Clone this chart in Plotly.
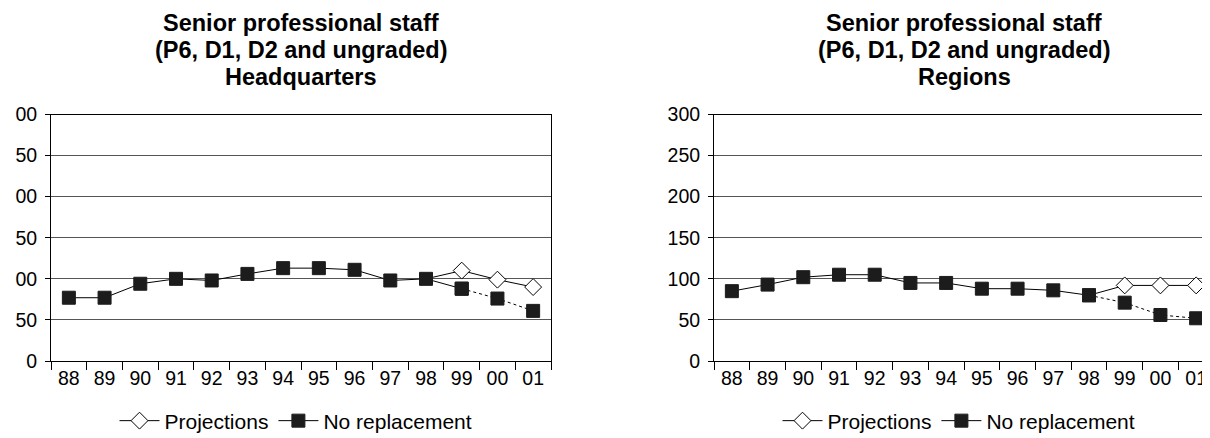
import plotly.graph_objects as go

years = ["88", "89", "90", "91", "92", "93", "94", "95", "96", "97", "98", "99", "00", "01"]

hq_no_replacement = [77, 77, 94, 100, 98, 106, 113, 113, 111, 98, 100, 88, 76, 61]
hq_projection_years = ["99", "00", "01"]
hq_projections = [110, 99, 90]
hq_solid_until = "99"   # no-replacement line is solid up to here, dotted after

reg_no_replacement = [85, 93, 102, 105, 105, 95, 95, 88, 88, 86, 80, 71, 56, 52]
reg_projection_years = ["99", "00", "01"]
reg_projections = [92, 92, 92]
reg_solid_until = "98"

title_lines_hq = ["Senior professional staff", "(P6, D1, D2 and ungraded)", "Headquarters"]
title_lines_reg = ["Senior professional staff", "(P6, D1, D2 and ungraded)", "Regions"]

y_ticks = [0, 50, 100, 150, 200, 250, 300]
# the left chart's y labels are cut off at the picture's left edge
hq_y_ticktext = ["0", "50", "00", "50", "00", "50", "00"]
reg_y_ticktext = ["0", "50", "100", "150", "200", "250", "300"]

W, H = 1210, 438
FONT = "Liberation Sans, Arial, sans-serif"

fig = go.Figure()


def add_chart(xa, ya, legend, no_repl, proj_years, proj, solid_until):
    cut = years.index(solid_until)
    base_year = "98"
    base_val = no_repl[years.index(base_year)]
    fig.add_trace(go.Scatter(
        x=[base_year, proj_years[0]], y=[base_val, proj[0]],
        mode="lines", line=dict(color="black", width=1),
        xaxis=xa, yaxis=ya, showlegend=False, hoverinfo="skip"))
    fig.add_trace(go.Scatter(
        x=proj_years, y=proj, name="Projections",
        mode="lines+markers", line=dict(color="black", width=1),
        marker=dict(symbol="diamond", size=13, color="white",
                    line=dict(color="black", width=1)),
        xaxis=xa, yaxis=ya, legend=legend))
    fig.add_trace(go.Scatter(
        x=years[cut:], y=no_repl[cut:],
        mode="lines+markers", line=dict(color="black", width=1, dash="3px,3px"),
        marker=dict(symbol="square", size=13, color="#1c1c1c",
                    line=dict(color="#1c1c1c", width=1)),
        xaxis=xa, yaxis=ya, showlegend=False))
    fig.add_trace(go.Scatter(
        x=years[:cut + 1], y=no_repl[:cut + 1], name="No replacement",
        mode="lines+markers", line=dict(color="black", width=1),
        marker=dict(symbol="square", size=13, color="#1c1c1c",
                    line=dict(color="#1c1c1c", width=1)),
        xaxis=xa, yaxis=ya, legend=legend))


add_chart("x", "y", "legend", hq_no_replacement, hq_projection_years, hq_projections, hq_solid_until)
add_chart("x2", "y2", "legend2", reg_no_replacement, reg_projection_years, reg_projections, reg_solid_until)

y_bottom = (H - 353) / H
y_top = (H - 106.5) / H

xaxis_common = dict(
    type="category", categoryorder="array", categoryarray=years,
    range=[-0.5, len(years) - 0.5],
    showline=True, linecolor="black", linewidth=1, mirror=True,
    ticks="outside", tickson="boundaries", ticklen=8, tickcolor="black",
    showgrid=False, zeroline=False,
    tickfont=dict(family=FONT, size=19.5, color="black"),
    fixedrange=True,
)
yaxis_common = dict(
    range=[0, 300], tickvals=y_ticks,
    showline=True, linecolor="black", linewidth=1, mirror=True,
    ticks="outside", ticklen=5, tickcolor="black", ticklabelstandoff=4,
    showgrid=True, gridcolor="#555555", gridwidth=1, zeroline=False,
    tickfont=dict(family=FONT, size=19.5, color="black"),
    automargin=False, fixedrange=True,
)

legend_common = dict(orientation="h", xanchor="center", y=(H - 413) / H, yanchor="middle",
                     font=dict(family=FONT, size=21, color="black"), bgcolor="rgba(0,0,0,0)",
                     itemwidth=40, traceorder="normal")

fig.update_layout(
    width=W, height=H,
    margin=dict(l=0, r=0, t=0, b=0),
    paper_bgcolor="white", plot_bgcolor="white",
    xaxis=dict(domain=[43 / W, 543 / W], anchor="y", **xaxis_common),
    yaxis=dict(domain=[y_bottom, y_top], anchor="x", ticktext=hq_y_ticktext, **yaxis_common),
    xaxis2=dict(domain=[706 / W, 1206 / W], anchor="y2", **xaxis_common),
    yaxis2=dict(domain=[y_bottom, y_top], anchor="x2", ticktext=reg_y_ticktext, **yaxis_common),
    legend=dict(x=288 / W, **legend_common),
    legend2=dict(x=951 / W, **legend_common),
    showlegend=True,
)

title_y_px = [15, 42, 69]
for cx, lines in [((43 + 543) / 2, title_lines_hq), ((706 + 1206) / 2, title_lines_reg)]:
    for ty, txt in zip(title_y_px, lines):
        fig.add_annotation(
            text="<b>%s</b>" % txt, x=cx / W, y=(H - ty) / H, xref="paper", yref="paper",
            xanchor="center", yanchor="middle", showarrow=False,
            font=dict(family=FONT, size=23.5, color="black"))

fig.write_html("out.html")
